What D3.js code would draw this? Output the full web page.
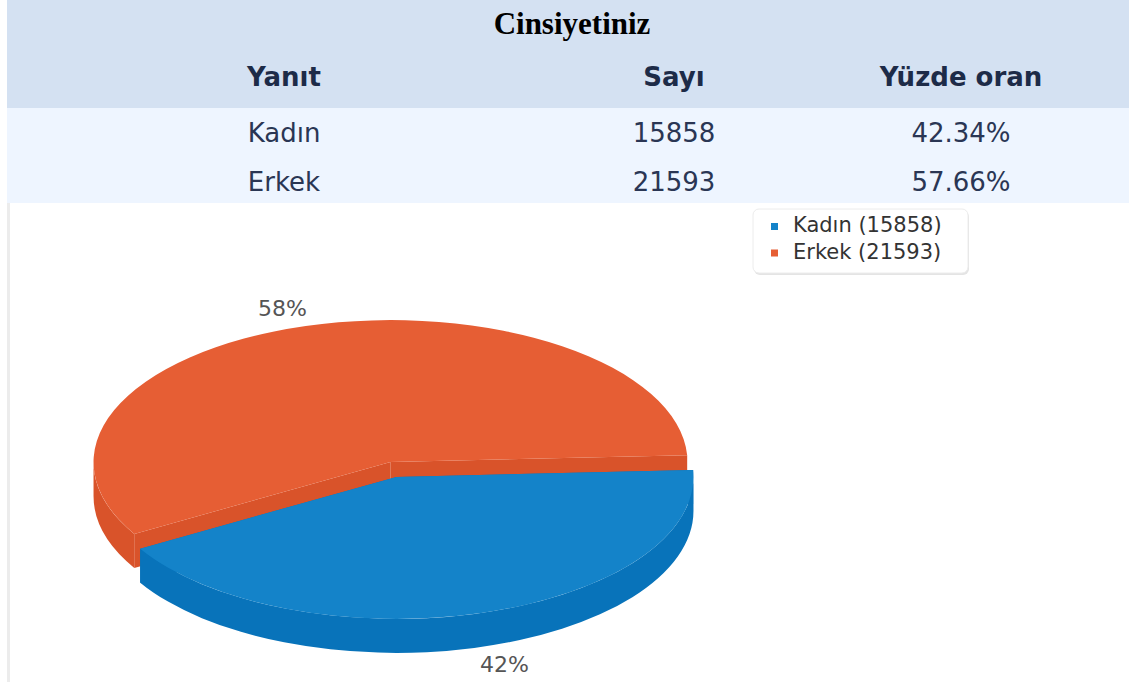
<!DOCTYPE html>
<html>
<script src="https://d3js.org/d3.v7.min.js"></script>
<style>
    body {
        margin: 0;
        background: #fff;
    }
    text {
        font-family: "DejaVu Sans", Verdana, sans-serif;
    }
</style>

<body>
</body>
<script>
    const title = "Cinsiyetiniz";
    const headers = ["Yanıt", "Sayı", "Yüzde oran"];
    const answers = ["Kadın", "Erkek"];
    const counts = [15858, 21593];
    const colors = ["#1483c9", "#e65e34"];
    const sideColors = ["#0873ba", "#d9532a"];

    const width = 1129,
        height = 682;
    const svg = d3.select("body").append("svg").attr("width", width).attr("height", height);

    const total = d3.sum(counts);
    const pct = d3.format(".2%");

    // table
    const colX = d3.scaleOrdinal().domain(headers).range([284, 674, 961]);
    svg.append("rect").attr("x", 7).attr("y", 0).attr("width", width - 7).attr("height", 108).attr("fill", "#d4e1f2");
    svg.append("rect").attr("x", 7).attr("y", 108).attr("width", width - 7).attr("height", 95).attr("fill", "#eef5ff");
    svg.append("rect").attr("x", 7).attr("y", 203).attr("width", 3).attr("height", height - 203).attr("fill", "#ececec");

    svg.append("text")
        .attr("x", 572).attr("y", 34)
        .attr("text-anchor", "middle")
        .style("font-family", "'Liberation Serif', 'Times New Roman', serif")
        .attr("font-weight", "bold")
        .attr("font-size", 31)
        .attr("fill", "#000")
        .text(title);

    svg.selectAll(".head")
        .data(headers)
        .join("text")
        .attr("class", "head")
        .attr("x", d => colX(d)).attr("y", 86)
        .attr("text-anchor", "middle")
        .attr("font-weight", "bold")
        .attr("font-size", 26)
        .attr("fill", "#1d2b48")
        .text(d => d);

    const rows = answers.map((a, i) => [a, counts[i], pct(counts[i] / total)]);
    const rowY = d3.scaleOrdinal().domain(answers).range([142, 191]);
    rows.forEach(r => {
        svg.selectAll(null)
            .data(r)
            .join("text")
            .attr("x", (d, j) => colX(headers[j])).attr("y", rowY(r[0]))
            .attr("text-anchor", "middle")
            .attr("font-size", 26)
            .attr("fill", "#2a3654")
            .text(d => d);
    });

    // 3d pie
    const cx = 393.5,
        cy = 469.5,
        rx = 297,
        ry = 142,
        depth = 34,
        exX = 10.4,
        exY = 7.7,
        rot = -2.8 * Math.PI / 180;
    const arcs = d3.pie().sort(null)
        .startAngle(Math.PI / 2 + rot).endAngle(Math.PI / 2 + rot + 2 * Math.PI)(counts)
        .map((d, i) => {
            const a0 = d.startAngle - Math.PI / 2,
                a1 = d.endAngle - Math.PI / 2,
                mid = (a0 + a1) / 2;
            return {
                i, a0, a1, mid,
                ox: exX * Math.cos(mid),
                oy: exY * Math.sin(mid)
            };
        });

    const pt = (s, a, dy = 0) => [cx + s.ox + rx * Math.cos(a), cy + s.oy + ry * Math.sin(a) + dy];
    const vtx = (s, dy = 0) => [cx + s.ox, cy + s.oy + dy];

    function topPath(s) {
        const p0 = pt(s, s.a0), p1 = pt(s, s.a1), v = vtx(s);
        const large = s.a1 - s.a0 > Math.PI ? 1 : 0;
        return `M${v}L${p0}A${rx},${ry} 0 ${large} 1 ${p1}Z`;
    }

    function cutPath(s, a) {
        return `M${vtx(s)}L${pt(s, a)}L${pt(s, a, depth)}L${vtx(s, depth)}Z`;
    }

    function wallPaths(s) {
        const out = [];
        [[-2 * Math.PI, -Math.PI], [0, Math.PI], [2 * Math.PI, 3 * Math.PI]].forEach(([f0, f1]) => {
            const b0 = Math.max(s.a0, f0), b1 = Math.min(s.a1, f1);
            if (b1 > b0) {
                out.push(`M${pt(s, b0)}A${rx},${ry} 0 0 1 ${pt(s, b1)}` +
                    `L${pt(s, b1, depth)}A${rx},${ry} 0 0 0 ${pt(s, b0, depth)}Z`);
            }
        });
        return out;
    }

    const order = arcs.slice().sort((a, b) => Math.sin(a.mid) - Math.sin(b.mid));
    const pie = svg.append("g");
    order.forEach(s => {
        const g = pie.append("g");
        [s.a0, s.a1].forEach(a => g.append("path").attr("d", cutPath(s, a)).attr("fill", sideColors[s.i]));
        wallPaths(s).forEach(p => g.append("path").attr("d", p).attr("fill", sideColors[s.i]));
        g.append("path").attr("d", topPath(s)).attr("fill", colors[s.i]);
    });

    const pct0 = d3.format(".0%");
    svg.selectAll(".lbl")
        .data(arcs)
        .join("text")
        .attr("class", "lbl")
        .attr("x", d => cx + rx * 1.31 * Math.cos(d.mid))
        .attr("y", d => cy + ry * 1.18 * Math.sin(d.mid) + (Math.sin(d.mid) > 0 ? depth : 0))
        .attr("text-anchor", "middle")
        .attr("dominant-baseline", "central")
        .attr("font-size", 22)
        .attr("fill", "#555")
        .text(d => pct0(counts[d.i] / total));

    // legend
    const legend = svg.append("g").attr("transform", "translate(753,209)");
    legend.append("rect").attr("x", 1).attr("y", 2).attr("width", 215).attr("height", 64).attr("rx", 6)
        .attr("fill", "#e4e4e4");
    legend.append("rect").attr("width", 215).attr("height", 64).attr("rx", 6)
        .attr("fill", "#fff").attr("stroke", "#ececec");
    const items = legend.selectAll(".item")
        .data(answers)
        .join("g")
        .attr("class", "item")
        .attr("transform", (d, i) => `translate(0,${23 + i * 26.5})`);
    items.append("rect").attr("x", 18).attr("y", -9).attr("width", 7).attr("height", 7)
        .attr("fill", (d, i) => colors[i]);
    items.append("text").attr("x", 40).attr("y", 0)
        .attr("font-size", 21)
        .attr("fill", "#333")
        .text((d, i) => `${d} (${counts[i]})`);
</script>

</html>
